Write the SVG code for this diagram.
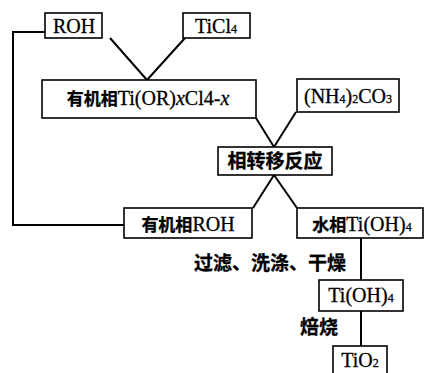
<svg xmlns="http://www.w3.org/2000/svg" width="425" height="373" viewBox="0 0 425 373">
<style>
.box{fill:#fff;stroke:#000;stroke-width:1.6}
.ln{fill:none;stroke:#000;stroke-width:2}
.t{font-family:"Liberation Serif","Noto Serif CJK SC","Noto Sans CJK SC",serif;font-size:20px;fill:#000;stroke:#000;stroke-width:0.3}
.c{font-family:"Noto Sans CJK SC",sans-serif;font-weight:bold;font-size:17px}
.cb{font-size:19px}
.s{font-size:12px}
</style>
<rect width="425" height="373" fill="#fff"/>
<g id="connectors">
<polyline class="ln" points="45,32 13,32 13,225 124,225"/>
<line class="ln" x1="110" y1="38" x2="147" y2="80"/>
<line class="ln" x1="185" y1="38" x2="147" y2="80"/>
<line class="ln" x1="256" y1="118" x2="274" y2="147"/>
<line class="ln" x1="296" y1="112" x2="274" y2="147"/>
<line class="ln" x1="274" y1="175" x2="253" y2="208"/>
<line class="ln" x1="274" y1="175" x2="297" y2="208"/>
<line class="ln" x1="361" y1="238" x2="361" y2="280"/>
<line class="ln" x1="361" y1="311" x2="361" y2="346"/>
<text class="t c cb" x="194" y="270">过滤、洗涤、干燥</text>
<text class="t c cb" x="300" y="334">焙烧</text>
</g>
<g id="roh"><rect class="box" x="45" y="13" width="57" height="25"/><text class="t" x="74" y="33" text-anchor="middle">ROH</text></g>
<g id="ticl4"><rect class="box" x="183" y="13" width="67" height="25"/><text class="t" x="216" y="33" text-anchor="middle">TiCl<tspan class="s">4</tspan></text></g>
<g id="organic"><rect class="box" x="42" y="80" width="214" height="38"/><text class="t" x="148" y="105" text-anchor="middle" font-size="21"><tspan class="c">有机相</tspan>Ti(OR)<tspan font-style="italic">x</tspan>Cl4-<tspan font-style="italic">x</tspan></text></g>
<g id="nh4co3"><rect class="box" x="297" y="79" width="102" height="33"/><text class="t" x="348" y="103" text-anchor="middle">(NH<tspan class="s">4</tspan>)<tspan class="s">2</tspan>CO<tspan class="s">3</tspan></text></g>
<g id="transfer"><rect class="box" x="218" y="147" width="114" height="28"/><text class="t c cb" x="275" y="168" text-anchor="middle">相转移反应</text></g>
<g id="orgroh"><rect class="box" x="124" y="208" width="128" height="30"/><text class="t" x="188" y="231" text-anchor="middle"><tspan class="c">有机相</tspan>ROH</text></g>
<g id="aqueous"><rect class="box" x="297" y="208" width="126" height="30"/><text class="t" x="362" y="231" text-anchor="middle"><tspan class="c">水相</tspan>Ti(OH)<tspan class="s">4</tspan></text></g>
<g id="tioh4"><rect class="box" x="319" y="280" width="84" height="31"/><text class="t" x="361" y="302" text-anchor="middle">Ti(OH)<tspan class="s">4</tspan></text></g>
<g id="tio2"><rect class="box" x="333" y="346" width="54" height="30"/><text class="t" x="360" y="367" text-anchor="middle">TiO<tspan class="s">2</tspan></text></g>
</svg>
